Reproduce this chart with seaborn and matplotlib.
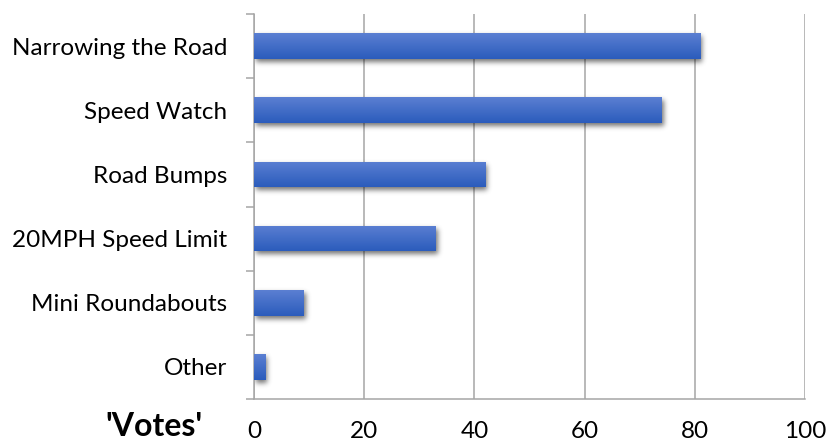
import numpy as np
import pandas as pd
import matplotlib
matplotlib.use("Agg")
import matplotlib.pyplot as plt
import seaborn as sns
from matplotlib.colors import LinearSegmentedColormap

# Survey results: preferred traffic-calming measures
categories = ["Narrowing the Road", "Speed Watch", "Road Bumps",
              "20MPH Speed Limit", "Mini Roundabouts", "Other"]
votes = [81, 74, 42, 33, 9, 2]
x_ticks = [0, 20, 40, 60, 80, 100]
x_tick_labels = ["0", "20", "40", "60", "80", "100"]
axis_title = "'Votes'"

sns.set_theme(style="white")
plt.rcParams["font.family"] = ["Lato", "DejaVu Sans"]

GRID = "#a6a6a6"
BAR_TOP = "#5b7fd2"
BAR_BOTTOM = "#2b5cbc"

df = pd.DataFrame({"measure": categories, "votes": votes})

W, H = 828, 441
fig = plt.figure(figsize=(W / 100, H / 100), dpi=100)
fig.patch.set_facecolor("white")
ax = fig.add_axes([254 / W, 1 - 399 / H, (805 - 254) / W, (399 - 14) / H])

sns.barplot(data=df, x="votes", y="measure", orient="h", width=0.4,
            color=BAR_BOTTOM, ax=ax, zorder=3)

ax.set_xlim(x_ticks[0], x_ticks[-1])
xlim = ax.get_xlim()
ylim = ax.get_ylim()

# vertical gridlines only
ax.set_axisbelow(True)
ax.xaxis.grid(True, color=GRID, linewidth=1.1)
ax.yaxis.grid(False)

for side in ("top", "right"):
    ax.spines[side].set_visible(False)
for side in ("left", "bottom"):
    ax.spines[side].set_color(GRID)
    ax.spines[side].set_linewidth(1.1)

ax.set_xticks(x_ticks)
ax.set_xticklabels(x_tick_labels)
ax.tick_params(axis="x", length=6, width=1.1, color=GRID, pad=10,
               labelsize=17.5, labelcolor="black")
# category labels centred on bars; tick marks between categories
ax.tick_params(axis="y", which="major", length=0, pad=19,
               labelsize=17.5, labelcolor="black")
ax.set_yticks(np.arange(len(categories) + 1) - 0.5, minor=True)
ax.tick_params(axis="y", which="minor", left=True, length=6, width=1.1,
               color=GRID)
ax.set_xlabel("")
ax.set_ylabel("")

bars = list(ax.patches)

# soft drop shadow beneath the bars
bb = ax.bbox
nx, ny = int(round(bb.width)), int(round(bb.height))
mask = np.zeros((ny, nx))
dx, dy = 2, 3
for p in bars:
    (x0, y0), (x1, y1) = ax.transData.transform(
        [(p.get_x(), p.get_y()), (p.get_x() + p.get_width(), p.get_y() + p.get_height())])
    c0, c1 = sorted([x0 - bb.x0, x1 - bb.x0])
    r0, r1 = sorted([bb.y1 - y0, bb.y1 - y1])
    mask[int(round(r0)) + dy:int(round(r1)) + dy,
         int(round(c0)) + dx:int(round(c1)) + dx] = 1.0

sigma = 2.6
k = np.arange(-9, 10)
kern = np.exp(-k ** 2 / (2 * sigma ** 2))
kern /= kern.sum()
blur = np.apply_along_axis(lambda r: np.convolve(r, kern, mode="same"), 1, mask)
blur = np.apply_along_axis(lambda c: np.convolve(c, kern, mode="same"), 0, blur)
shadow = np.zeros((ny, nx, 4))
shadow[..., 3] = blur * 0.55
ax.imshow(shadow, extent=(xlim[0], xlim[1], ylim[0], ylim[1]), origin="upper",
          aspect="auto", interpolation="bilinear", zorder=2)

# vertical gradient fill for each bar
cmap = LinearSegmentedColormap.from_list("bar", [BAR_TOP, BAR_BOTTOM])
grad = np.linspace(0, 1, 64).reshape(-1, 1)
for p in bars:
    x0, y0 = p.get_x(), p.get_y()
    x1, y1 = x0 + p.get_width(), y0 + p.get_height()
    im = ax.imshow(grad, cmap=cmap, extent=(x0, x1, y1, y0), origin="upper",
                   aspect="auto", interpolation="bilinear", zorder=4)
    im.set_clip_path(p)
    p.set_facecolor("none")
    p.set_edgecolor("none")

ax.set_xlim(xlim)
ax.set_ylim(ylim)

fig.text(154 / W, 1 - 436 / H, axis_title, ha="center", va="baseline",
         fontsize=23, fontweight="bold", color="black")

fig.savefig("out.png", dpi=100)
